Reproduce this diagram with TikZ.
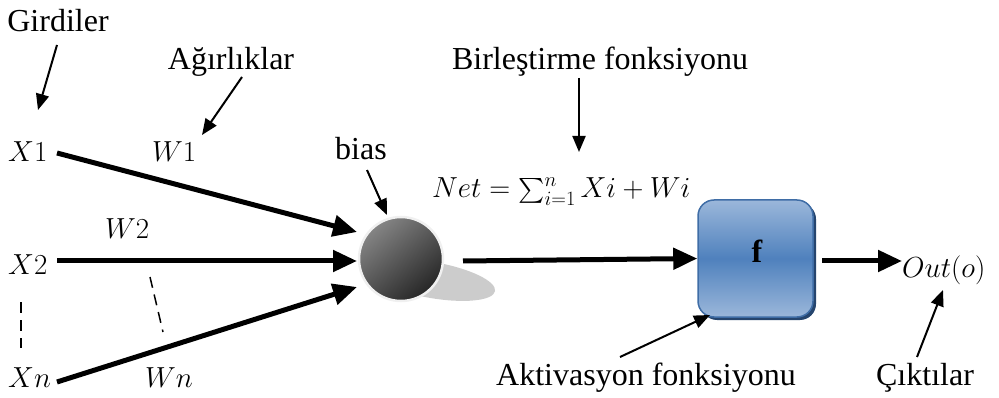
\RequirePackage{fix-cm}
\documentclass[tikz,border=0pt]{standalone}
\usepackage{amsmath}
\usepackage{fontspec}
\setmainfont{Liberation Serif}
\newfontfamily\tnr{Liberation Serif}
\usetikzlibrary{arrows.meta,calc}
\definecolor{boxlight}{HTML}{9BB7DA}
\definecolor{boxmid}{HTML}{4F81BD}
\definecolor{boxedge}{HTML}{3F6DA6}
\definecolor{boxshadow}{HTML}{26456E}
\definecolor{shadowgray}{HTML}{CCCCCC}
\definecolor{balllight}{HTML}{858585}
\definecolor{balldark}{HTML}{262626}
\begin{document}
\begin{tikzpicture}[x=1pt,y=-1pt,
  lbl/.style={font=\tnr\fontsize{32}{38}\selectfont, inner sep=0pt, anchor=base},
  mth/.style={font=\fontsize{29}{35}\selectfont, inner sep=0pt, anchor=base west},
  thickarrow/.style={line width=5pt, -{Triangle[length=24pt,width=21pt]}},
  thinarrow/.style={line width=2pt, -{Triangle[length=16pt,width=13pt]}},
  dashline/.style={line width=1.5pt, dash pattern=on 11pt off 7pt},
]
\useasboundingbox (0,0) rectangle (999,398);

% text labels
\node[lbl] (gird) at (58,32) {Girdiler};
\node[lbl] (agir) at (231,70) {Ağırlıklar};
\node[lbl] (birl) at (600,70) {Birleştirme fonksiyonu};
\node[lbl] (bias) at (361,160) {bias};
\node[lbl] (akt) at (646,385) {Aktivasyon fonksiyonu};
\node[lbl] (cikt) at (925,385) {Çıktılar};

% math labels
\node[mth] (x1) at (8,162) {$X1$};
\node[mth] (w1) at (152,162) {$W1$};
\node[mth] (x2) at (8,275) {$X2$};
\node[mth] (w2) at (105,239) {$W2$};
\node[mth] (xn) at (8,387) {$Xn$};
\node[mth] (wn) at (145,387) {$Wn$};
\node[mth] (net) at (432,198) {$\textstyle Net=\sum_{i=1}^{n}Xi+Wi$};
\node[mth] (out) at (902,277) {$Out(o)$};

% neuron ball with shadow
\fill[shadowgray, rotate around={-10:(432,280)}] (432,280) ellipse [x radius=64, y radius=18];
\node[circle, minimum size=84pt, inner sep=0pt, draw=gray!12, line width=2.5pt,
      shading=axis, top color=balllight, bottom color=balldark, shading angle=40] (ball) at (401,259) {};

% activation box
\fill[boxshadow, rounded corners=16pt] (701,203) rectangle (816,320);
\node[draw=boxedge, line width=1.5pt, rounded corners=16pt, minimum width=115pt, minimum height=117pt,
      inner sep=0pt, top color=boxlight, bottom color=boxlight, middle color=boxmid] (fbox) at (755.5,258.5) {};
\node[lbl, font=\tnr\fontsize{32}{38}\selectfont\bfseries] (f) at (757,262) {f};

% connector end points
\coordinate (s1) at (57,153);
\coordinate (t1) at (357,232);
\coordinate (s2) at (57,261);
\coordinate (t2) at (357,261);
\coordinate (s3) at (57,382);
\coordinate (t3) at (357,287);
\coordinate (s4) at (463,261);
\coordinate (s5) at (822,261);

% weighted inputs
\draw[thickarrow] (s1) -- (t1);
\draw[thickarrow] (s2) -- (t2);
\draw[thickarrow] (s3) -- (t3);
\draw[thickarrow] (s4) -- (fbox.west);
\draw[thickarrow] (s5) -- (out.west |- s5);

% annotation arrows
\coordinate (a1s) at (57,45);   \coordinate (a1e) at (38,110);
\coordinate (a2s) at (242,77);  \coordinate (a2e) at (202,135);
\coordinate (a3s) at (579,78);  \coordinate (a3e) at (579,152);
\coordinate (a4s) at (367,170); \coordinate (a4e) at (387,215);
\coordinate (a5s) at (620,357); \coordinate (a5e) at (710,315);
\coordinate (a6s) at (917,357); \coordinate (a6e) at (943,290);
\draw[thinarrow] (a1s) -- (a1e);
\draw[thinarrow] (a2s) -- (a2e);
\draw[thinarrow] (a3s) -- (a3e);
\draw[thinarrow] (a4s) -- (a4e);
\draw[thinarrow] (a5s) -- (a5e);
\draw[thinarrow] (a6s) -- (a6e);

% dashed ellipsis marks
\coordinate (d1s) at (21,302); \coordinate (d1e) at (21,348);
\coordinate (d2s) at (150,277); \coordinate (d2e) at (163,332);
\draw[dashline] (d1s) -- (d1e);
\draw[dashline] (d2s) -- (d2e);
\end{tikzpicture}
\end{document}
